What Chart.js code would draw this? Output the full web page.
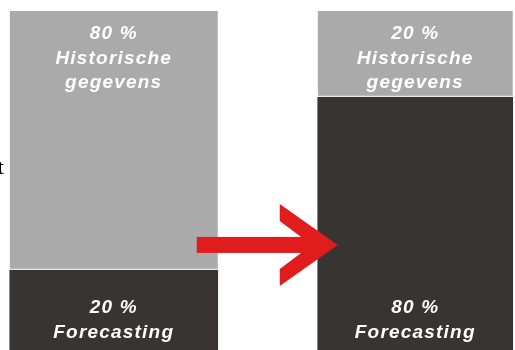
<!DOCTYPE html>
<html>
<head>
<meta charset="utf-8">
<script src="https://cdn.jsdelivr.net/npm/chart.js@4.4.0/dist/chart.umd.min.js"></script>
<style>
  html, body { margin: 0; padding: 0; background: #fff; overflow: hidden; width: 515px; height: 350px; }
  #wrap { position: absolute; left: -37px; top: 0; width: 603px; height: 350px; }
</style>
</head>
<body>
<div id="wrap"><canvas id="chart" width="603" height="350"></canvas></div>
<script>
// Historische gegevens vs forecasting, before and after
const categories = ['Nu', 'Straks'];
const forecasting = [23.5, 74.5];   // dark lower part, as drawn
const historisch = [76.5, 25.5];    // grey upper part, as drawn
const forecastPct = ['20 %', '80 %'];
const historischPct = ['80 %', '20 %'];
const historischText = ['Historische', 'gegevens'];
const forecastText = ['Forecasting'];
const sideText = 't';

const GREY = '#aaaaaa';
const DARK = '#383431';
const RED = '#e01c1c';
const barWidths = [208, 195];

// one dark + grey pair per bar, so each bar can get its own width
const datasets = [];
categories.forEach((cat, i) => {
  const only = (arr) => arr.map((v, j) => (j === i ? v : null));
  datasets.push({
    label: 'Forecasting',
    data: only(forecasting),
    backgroundColor: DARK,
    borderWidth: 0,
    barThickness: barWidths[i],
  });
  datasets.push({
    label: 'Historische gegevens',
    data: only(historisch),
    backgroundColor: GREY,
    borderColor: '#e8e8e8',
    borderWidth: { top: 0, left: 0, right: 0, bottom: 2 },
    borderSkipped: false,
    barThickness: barWidths[i],
  });
});

// arrow + white labels on the bars
const overlay = {
  id: 'overlay',
  afterDatasetsDraw(chart) {
    const ctx = chart.ctx;
    const area = chart.chartArea;
    const y = chart.scales.y;

    const leftBar = chart.getDatasetMeta(1).data[0];
    const rightBar = chart.getDatasetMeta(2).data[1];
    const leftEdgeR = leftBar.x + leftBar.width / 2;
    const rightEdgeL = rightBar.x - rightBar.width / 2;

    // red arrow from left bar into right bar
    const ay = y.getPixelForValue(31);
    const tip = rightEdgeL + 20;
    const back = rightEdgeL - 38;
    ctx.save();
    ctx.fillStyle = RED;
    ctx.fillRect(leftEdgeR - 21, ay - 8, tip - 20 - (leftEdgeR - 21), 16);
    ctx.beginPath();
    ctx.moveTo(back, ay - 41);
    ctx.lineTo(tip, ay);
    ctx.lineTo(back, ay + 41);
    ctx.lineTo(back, ay + 24);
    ctx.lineTo(tip - 26, ay);
    ctx.lineTo(back, ay - 24);
    ctx.closePath();
    ctx.fill();

    // labels
    ctx.fillStyle = '#ffffff';
    ctx.font = 'italic bold 19px "Liberation Sans", Arial, sans-serif';
    ctx.letterSpacing = '1.2px';
    ctx.textAlign = 'center';
    ctx.textBaseline = 'alphabetic';
    categories.forEach((c, i) => {
      const grey = chart.getDatasetMeta(i * 2 + 1).data[i];
      const cx = grey.x;
      [historischPct[i], ...historischText].forEach((t, k) => {
        ctx.fillText(t, cx, grey.y + 28 + k * 24.5);
      });
      [forecastPct[i], ...forecastText].forEach((t, k) => {
        ctx.fillText(t, cx, area.bottom - 37 + k * 25);
      });
    });

    // stray letter at the left edge
    ctx.letterSpacing = '0px';
    ctx.fillStyle = '#000000';
    ctx.font = '22px "Liberation Serif", "Times New Roman", serif';
    ctx.textAlign = 'right';
    ctx.fillText(sideText, leftBar.x - leftBar.width / 2 - 6, 174);
    ctx.restore();
  },
};

new Chart(document.getElementById('chart'), {
  type: 'bar',
  data: { labels: categories, datasets: datasets },
  options: {
    responsive: false,
    devicePixelRatio: 1,
    animation: false,
    layout: { padding: { top: 11, bottom: 0, left: 0, right: 0 } },
    plugins: {
      legend: { display: false },
      tooltip: { enabled: false },
    },
    scales: {
      x: { display: false, stacked: true },
      y: { display: false, stacked: true, min: 0, max: 100 },
    },
  },
  plugins: [overlay],
});
</script>
</body>
</html>
